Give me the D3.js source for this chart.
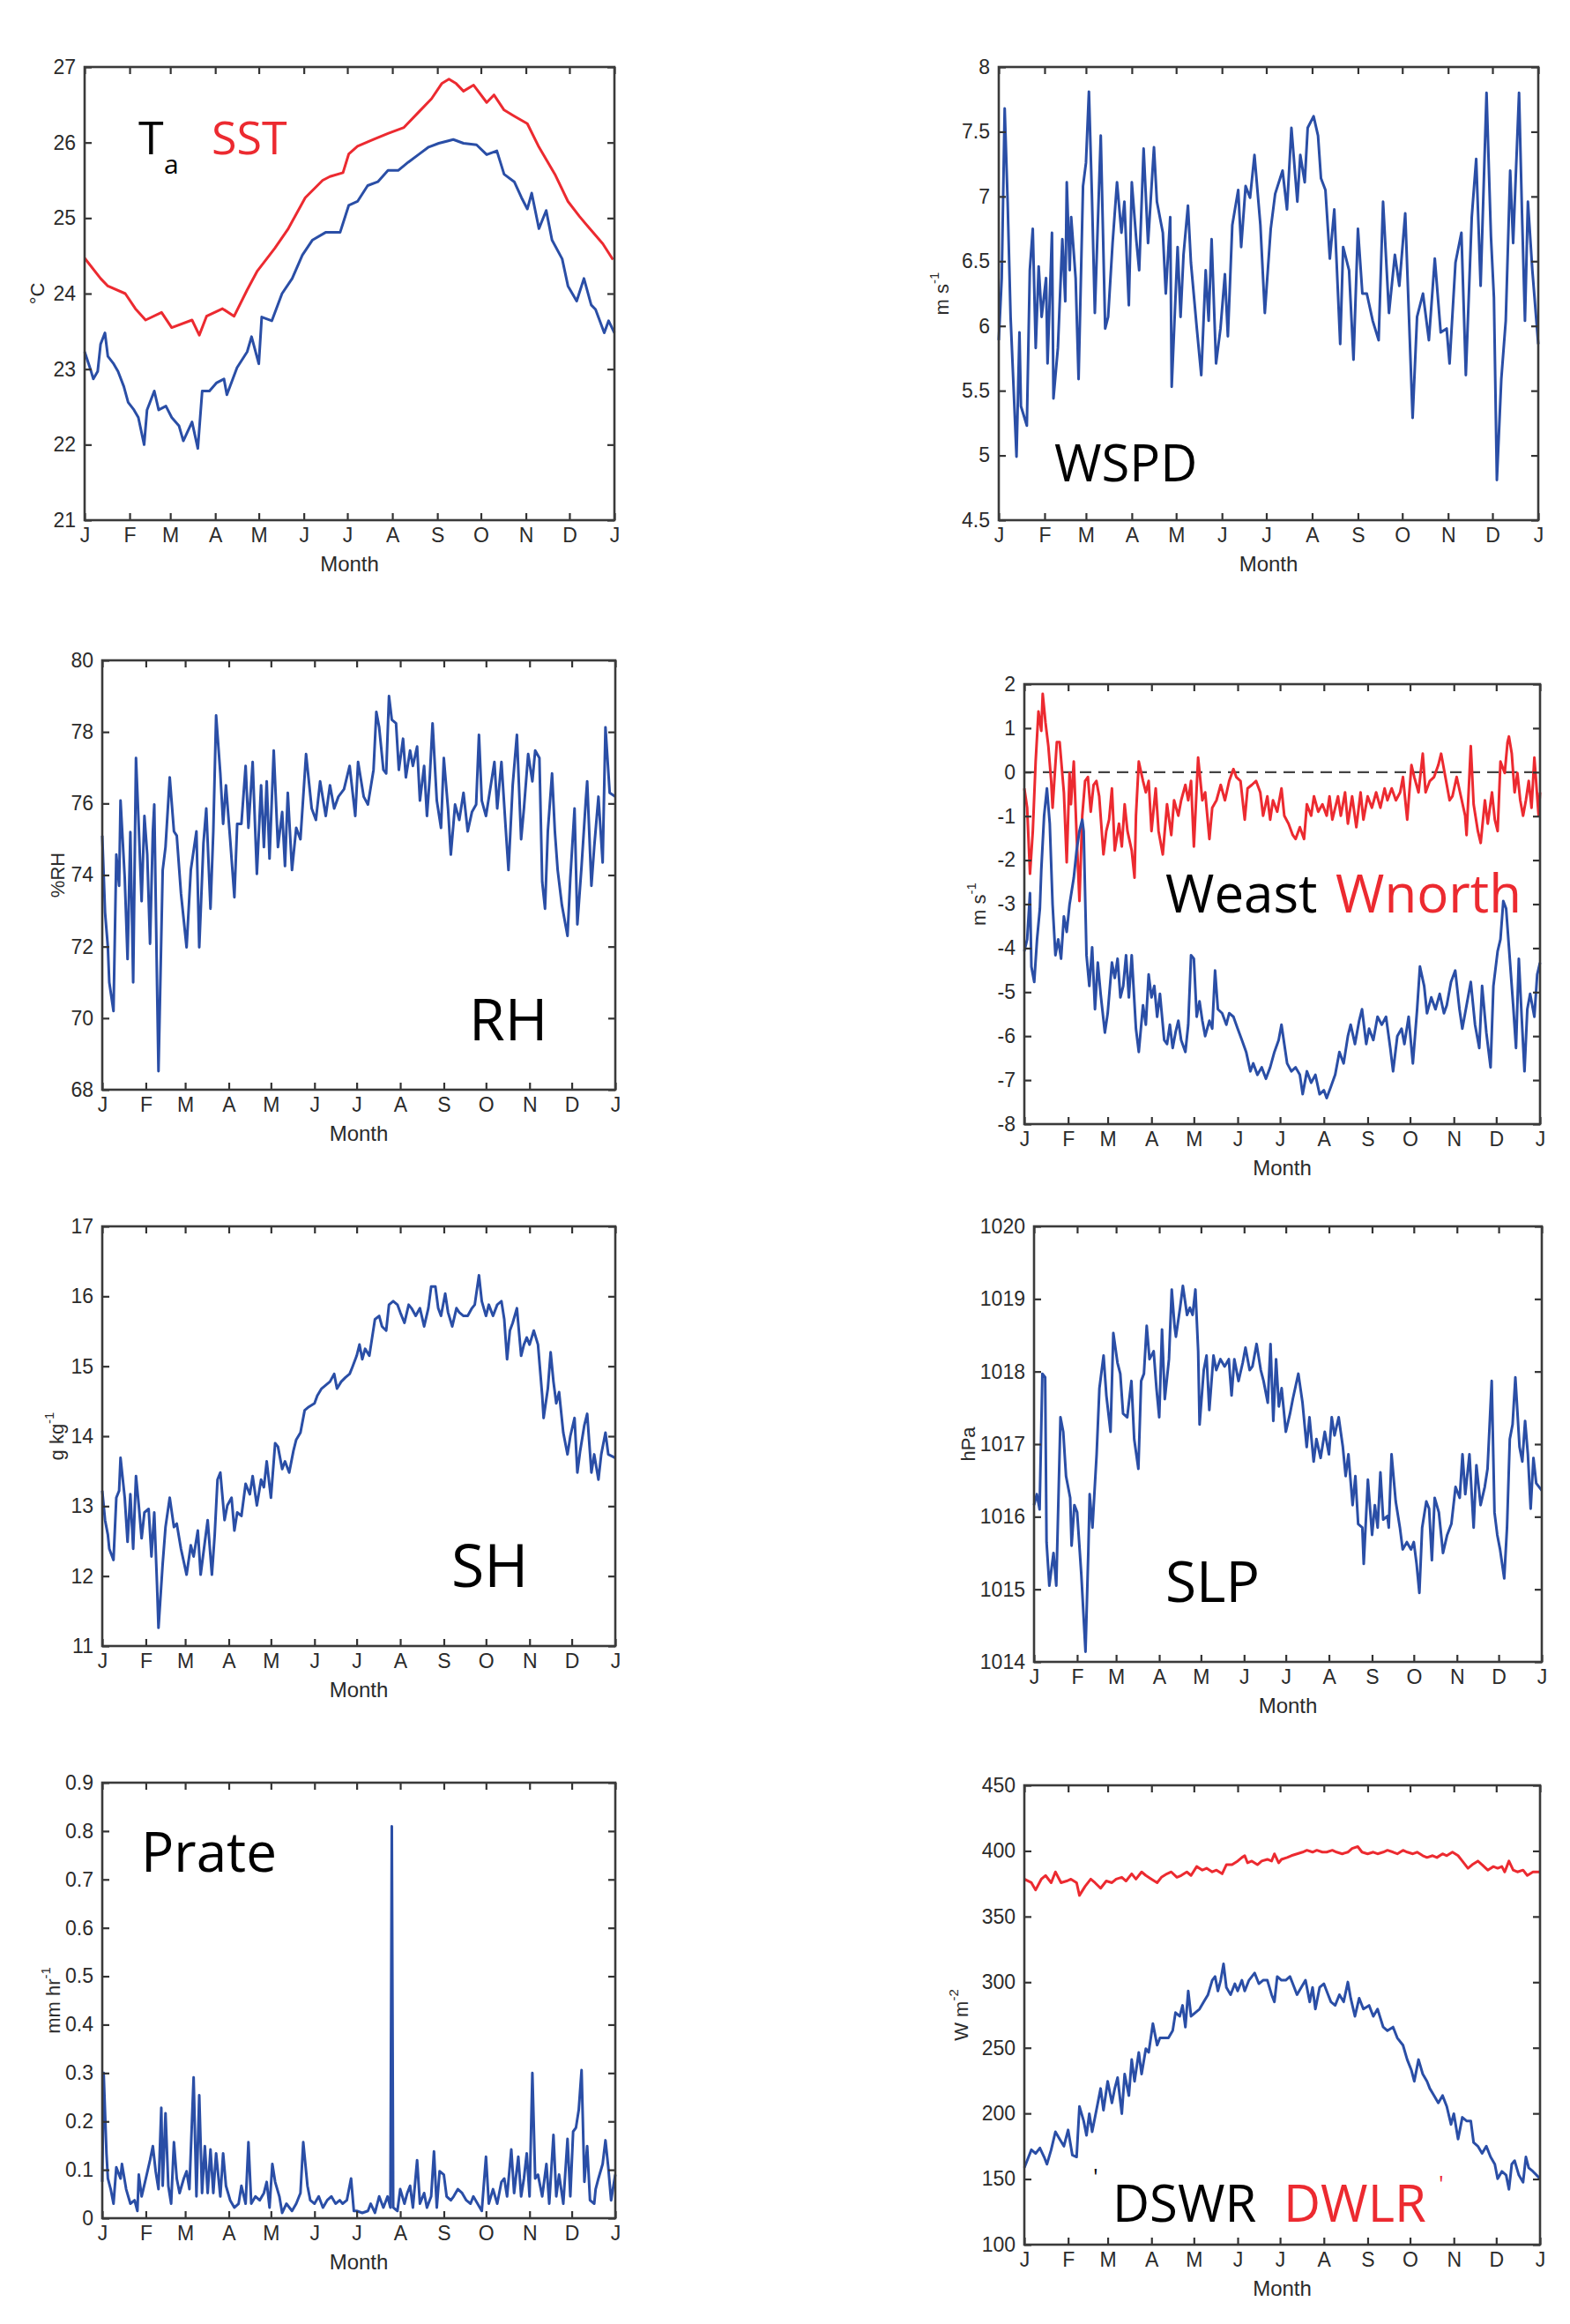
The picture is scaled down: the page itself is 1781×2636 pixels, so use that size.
<!DOCTYPE html>
<html>
<head>
<meta charset="utf-8">
<script src="https://cdn.jsdelivr.net/npm/d3@7"></script>
<style>
  body { margin: 0; background: #fff; }
  svg { display: block; }
</style>
</head>
<body>
<svg id="fig" width="1781" height="2636"></svg>
<script>
// month tick labels along every x axis
var monthLabels = ["J","F","M","A","M","J","J","A","S","O","N","D","J"];

// [day of year, value]
var ta = [[0,23.23],[4,23.0],[6,22.87],[9,22.97],[11,23.33],[14,23.48],[16,23.17],[20,23.07],[23,22.97],[27,22.77],[30,22.56],[34,22.46],[37,22.36],[41,22.0],[43,22.46],[48,22.71],[51,22.46],[56,22.51],[60,22.36],[65,22.25],[68,22.05],[74,22.3],[78,21.95],[81,22.71],[86,22.71],[91,22.82],[96,22.87],[98,22.66],[105,23.02],[112,23.23],[115,23.43],[120,23.07],[122,23.69],[129,23.64],[136,24.0],[143,24.2],[150,24.51],[157,24.71],[166,24.81],[176,24.81],[182,25.17],[188,25.22],[195,25.43],[202,25.48],[209,25.63],[216,25.63],[223,25.74],[230,25.84],[237,25.94],[244,25.99],[254,26.04],[261,25.99],[270,25.97],[277,25.84],[284,25.89],[289,25.58],[296,25.48],[301,25.27],[305,25.12],[308,25.33],[313,24.86],[318,25.1],[322,24.71],[329,24.46],[333,24.1],[339,23.9],[344,24.2],[349,23.85],[352,23.79],[358,23.48],[361,23.64],[365,23.48]];
var sst = [[0,24.47],[11,24.2],[16,24.1],[28,24.0],[35,23.8],[42,23.65],[53,23.75],[60,23.55],[74,23.65],[79,23.45],[84,23.7],[95,23.8],[103,23.7],[112,24.05],[119,24.3],[131,24.6],[140,24.85],[152,25.27],[164,25.5],[169,25.55],[178,25.6],[182,25.85],[188,25.95],[199,26.04],[209,26.12],[220,26.2],[230,26.4],[239,26.58],[246,26.78],[251,26.84],[256,26.78],[261,26.68],[268,26.76],[277,26.53],[282,26.63],[289,26.43],[296,26.35],[305,26.25],[313,25.94],[324,25.58],[333,25.22],[341,25.02],[348,24.86],[357,24.66],[364,24.45]];

var wspd = [[0,5.89],[2,6.37],[4,7.68],[6,6.96],[8,6.07],[10,5.53],[12,4.99],[14,5.95],[15,5.38],[19,5.23],[21,6.43],[23,6.75],[25,5.83],[27,6.46],[29,6.07],[32,6.37],[33,5.71],[36,6.72],[37,5.44],[40,5.83],[43,6.67],[45,6.19],[46,7.11],[48,6.43],[49,6.84],[52,6.37],[54,5.59],[57,7.08],[59,7.26],[61,7.81],[63,7.02],[65,6.1],[69,7.47],[72,5.98],[74,6.07],[77,6.64],[80,7.11],[83,6.72],[85,6.96],[88,6.16],[90,7.11],[93,6.67],[95,6.43],[98,7.37],[101,6.64],[105,7.38],[107,6.96],[111,6.72],[113,6.25],[116,6.84],[117,5.53],[121,6.61],[123,6.07],[125,6.55],[128,6.93],[130,6.49],[134,5.98],[137,5.62],[140,6.43],[142,6.04],[144,6.67],[147,5.71],[150,5.98],[153,6.4],[155,5.92],[158,6.78],[162,7.05],[164,6.61],[167,7.08],[170,6.99],[173,7.32],[177,6.78],[180,6.1],[184,6.75],[187,7.02],[192,7.2],[195,6.9],[198,7.53],[202,6.96],[204,7.32],[207,7.11],[209,7.53],[213,7.62],[216,7.47],[218,7.14],[221,7.05],[224,6.52],[227,6.9],[231,5.86],[233,6.61],[237,6.43],[240,5.74],[243,6.75],[246,6.25],[249,6.25],[253,6.04],[257,5.89],[260,6.96],[264,6.1],[268,6.55],[271,6.31],[275,6.87],[280,5.29],[283,6.07],[287,6.25],[291,5.89],[295,6.52],[299,5.95],[303,5.98],[305,5.71],[309,6.49],[313,6.72],[316,5.62],[320,6.84],[323,7.29],[326,6.31],[330,7.8],[333,6.69],[335,6.22],[337,4.81],[340,5.59],[343,6.04],[346,7.2],[348,6.64],[352,7.8],[354,6.87],[356,6.04],[358,6.96],[361,6.43],[365,5.86]];

var rh = [[0,75.1],[2,72.95],[4,71.98],[5,71.0],[8,70.2],[10,74.57],[12,73.7],[13,76.08],[16,73.92],[18,71.65],[20,75.2],[22,71.0],[24,77.27],[26,75.32],[28,73.27],[30,75.65],[32,74.57],[34,72.08],[36,75.22],[37,75.97],[39,70.9],[40,68.52],[43,74.14],[45,74.78],[48,76.73],[51,75.22],[53,75.1],[56,73.49],[60,71.98],[63,74.14],[67,75.22],[69,71.98],[72,74.89],[74,75.86],[77,73.06],[79,75.22],[81,78.46],[84,76.84],[86,75.43],[88,76.51],[91,75.0],[94,73.38],[96,75.43],[99,75.43],[102,77.05],[104,75.32],[107,77.16],[110,74.03],[113,76.51],[115,74.78],[117,76.62],[119,74.46],[122,77.48],[125,74.78],[128,75.76],[130,74.25],[132,76.3],[135,74.14],[138,75.32],[141,75.0],[145,77.38],[149,75.86],[152,75.54],[155,76.62],[159,75.65],[162,76.51],[165,75.86],[168,76.19],[172,76.4],[176,77.05],[180,75.65],[182,77.16],[186,76.19],[189,75.97],[193,76.94],[195,78.56],[197,78.13],[200,76.94],[202,76.84],[204,79.0],[206,78.34],[209,78.24],[211,76.94],[214,77.81],[216,76.73],[219,77.48],[221,77.05],[224,77.59],[226,76.08],[229,77.05],[231,75.65],[233,76.73],[235,78.24],[238,76.08],[241,75.32],[243,77.27],[246,75.86],[248,74.57],[251,75.97],[254,75.54],[257,76.3],[260,75.22],[263,75.76],[266,75.97],[268,77.92],[270,76.08],[273,75.65],[276,76.4],[279,77.16],[281,75.86],[284,77.16],[287,75.32],[289,74.14],[292,76.51],[295,77.92],[298,75.0],[300,75.86],[303,77.38],[306,76.62],[308,77.48],[311,77.27],[313,73.81],[315,73.06],[317,75.22],[320,76.84],[322,75.22],[324,74.14],[327,73.16],[331,72.3],[333,73.92],[336,75.86],[338,72.62],[341,74.25],[344,76.08],[345,76.62],[348,73.7],[350,74.78],[353,76.19],[356,74.35],[358,78.13],[361,76.3],[365,76.19]];

var wnorth = [[0,-0.37],[2,-0.81],[4,-2.31],[6,-1.34],[8,0.24],[10,1.38],[12,0.94],[13,1.78],[15,1.12],[17,0.59],[19,-0.2],[20,-0.81],[23,0.68],[25,0.68],[28,-0.46],[30,-2.05],[32,-0.02],[33,-0.73],[35,0.24],[37,-1.43],[39,-2.93],[41,-0.99],[43,-0.2],[45,-0.11],[47,-0.9],[49,-0.29],[51,-0.2],[53,-0.55],[56,-1.87],[58,-1.34],[60,-1.08],[62,-0.37],[64,-1.78],[67,-1.17],[69,-1.69],[71,-0.73],[73,-1.34],[76,-1.78],[78,-2.4],[79,-0.99],[81,0.24],[84,-0.2],[86,-0.46],[88,-0.2],[90,-1.34],[93,-0.37],[95,-1.34],[98,-1.87],[101,-0.73],[104,-1.43],[106,-0.64],[109,-0.99],[111,-0.64],[114,-0.29],[116,-0.64],[118,-0.2],[120,-1.69],[123,0.33],[126,-0.64],[128,-0.46],[131,-1.52],[133,-0.81],[136,-0.64],[139,-0.29],[142,-0.64],[145,-0.2],[148,0.07],[150,-0.11],[153,-0.2],[156,-1.08],[158,-0.37],[161,-0.29],[164,-0.2],[167,-0.46],[169,-0.99],[172,-0.55],[174,-1.08],[176,-0.64],[179,-0.9],[182,-0.37],[184,-0.99],[187,-1.17],[190,-1.43],[192,-1.52],[195,-1.25],[198,-1.52],[200,-0.73],[203,-0.99],[205,-0.55],[208,-0.9],[211,-0.73],[214,-0.99],[216,-0.55],[218,-1.08],[222,-0.55],[224,-0.99],[227,-0.46],[229,-1.17],[232,-0.55],[235,-1.25],[238,-0.46],[240,-1.08],[243,-0.55],[246,-0.81],[249,-0.46],[252,-0.81],[255,-0.37],[257,-0.64],[260,-0.37],[263,-0.64],[266,-0.46],[268,-0.11],[271,-1.08],[274,0.16],[276,-0.11],[279,-0.46],[282,0.42],[284,-0.46],[287,-0.2],[290,-0.11],[293,0.16],[295,0.42],[298,-0.11],[301,-0.64],[303,-0.55],[306,-0.11],[309,-0.55],[312,-0.99],[313,-1.43],[316,0.59],[318,-0.73],[321,-1.34],[323,-1.61],[326,-0.64],[328,-1.17],[331,-0.46],[333,-1.08],[335,-1.34],[337,0.24],[340,-0.02],[342,0.68],[343,0.81],[345,0.42],[347,-0.46],[349,-0.02],[351,-0.64],[353,-0.99],[355,-0.64],[357,-0.2],[359,-0.81],[361,0.33],[364,-0.99],[365,-0.46]];

var weast = [[0,-4.07],[2,-3.8],[4,-2.75],[5,-4.42],[7,-4.77],[9,-3.8],[11,-3.1],[12,-2.22],[14,-0.99],[16,-0.37],[18,-1.17],[20,-3.01],[22,-4.16],[24,-3.8],[26,-4.24],[28,-3.28],[30,-3.63],[32,-3.01],[35,-2.4],[37,-1.78],[39,-1.34],[41,-1.08],[42,-1.34],[44,-4.16],[46,-4.86],[48,-3.98],[50,-5.39],[52,-4.33],[54,-5.04],[57,-5.92],[59,-5.48],[62,-4.33],[64,-4.68],[66,-4.24],[68,-5.12],[70,-4.86],[72,-4.16],[74,-5.12],[76,-4.16],[79,-5.83],[81,-6.36],[84,-5.3],[86,-5.74],[88,-4.6],[90,-5.12],[92,-4.86],[94,-5.56],[96,-5.04],[99,-6.09],[101,-6.18],[103,-5.74],[105,-6.27],[107,-5.92],[109,-5.65],[111,-6.09],[114,-6.36],[116,-5.74],[118,-4.16],[120,-4.24],[122,-5.56],[124,-5.21],[126,-5.65],[128,-6.0],[131,-5.65],[133,-5.83],[135,-4.51],[137,-5.39],[140,-5.48],[143,-5.74],[145,-5.48],[148,-5.56],[151,-5.83],[154,-6.09],[157,-6.36],[160,-6.8],[162,-6.62],[165,-6.88],[168,-6.71],[171,-6.97],[174,-6.71],[177,-6.36],[180,-6.09],[182,-5.74],[184,-6.18],[186,-6.62],[189,-6.8],[192,-6.71],[195,-6.88],[197,-7.32],[200,-6.8],[203,-7.06],[206,-6.88],[209,-7.32],[212,-7.23],[214,-7.41],[217,-7.15],[220,-6.88],[223,-6.36],[226,-6.62],[229,-6.0],[231,-5.74],[234,-6.18],[237,-5.65],[239,-5.39],[242,-6.18],[244,-5.83],[247,-6.09],[250,-5.56],[253,-5.74],[256,-5.56],[259,-6.27],[261,-6.8],[264,-6.0],[267,-5.83],[269,-6.18],[272,-5.56],[275,-6.62],[278,-5.39],[280,-4.42],[283,-4.86],[285,-5.48],[288,-5.12],[291,-5.39],[294,-5.04],[297,-5.48],[299,-5.3],[302,-4.77],[305,-4.51],[308,-5.39],[310,-5.83],[313,-5.3],[316,-4.77],[319,-5.74],[322,-6.27],[324,-4.86],[327,-5.92],[330,-6.71],[332,-4.86],[335,-4.07],[337,-3.8],[339,-2.93],[341,-3.1],[343,-3.98],[346,-5.3],[348,-6.27],[350,-4.24],[352,-5.56],[354,-6.8],[356,-5.39],[358,-5.04],[361,-5.56],[363,-4.6],[365,-4.33]];

var sh = [[0,13.22],[2,12.8],[4,12.59],[5,12.39],[8,12.23],[10,13.12],[12,13.22],[13,13.69],[16,13.12],[18,12.49],[20,13.17],[22,12.39],[24,13.43],[26,13.01],[28,12.54],[30,12.91],[33,12.96],[35,12.28],[37,12.91],[39,11.86],[40,11.26],[43,12.18],[45,12.7],[48,13.12],[51,12.7],[53,12.75],[56,12.39],[60,12.02],[63,12.44],[65,12.28],[68,12.65],[70,12.02],[73,12.49],[75,12.8],[78,12.02],[80,12.59],[82,13.38],[84,13.48],[87,12.8],[89,13.01],[92,13.12],[94,12.65],[96,12.91],[99,12.86],[102,13.32],[105,13.17],[107,13.43],[110,13.01],[113,13.38],[115,13.27],[117,13.64],[120,13.12],[123,13.9],[125,13.85],[128,13.53],[130,13.64],[133,13.48],[136,13.79],[138,13.95],[141,14.05],[144,14.37],[147,14.42],[151,14.47],[153,14.58],[156,14.68],[159,14.73],[162,14.78],[165,14.89],[167,14.68],[170,14.78],[173,14.84],[176,14.89],[178,14.99],[181,15.15],[183,15.31],[185,15.1],[187,15.25],[190,15.15],[192,15.41],[194,15.67],[197,15.72],[199,15.57],[202,15.51],[204,15.88],[207,15.93],[210,15.88],[212,15.77],[215,15.62],[218,15.88],[220,15.83],[223,15.72],[226,15.83],[229,15.57],[232,15.83],[234,16.14],[237,16.14],[239,15.83],[241,15.72],[244,16.04],[246,15.77],[249,15.57],[252,15.83],[254,15.77],[257,15.72],[260,15.72],[263,15.83],[265,15.88],[268,16.3],[270,15.93],[273,15.72],[275,15.88],[278,15.72],[281,15.88],[284,15.93],[286,15.67],[288,15.1],[290,15.51],[292,15.62],[295,15.83],[298,15.15],[300,15.31],[302,15.41],[304,15.31],[307,15.51],[310,15.31],[313,14.58],[314,14.26],[317,14.68],[319,15.2],[321,14.78],[323,14.47],[325,14.63],[328,14.05],[331,13.74],[333,14.0],[336,14.26],[338,13.48],[340,13.79],[343,14.16],[345,14.32],[348,13.48],[350,13.74],[353,13.38],[355,13.74],[358,14.05],[360,13.74],[365,13.69]];

var slp = [[0,1016.16],[2,1016.31],[4,1016.1],[6,1017.97],[8,1017.92],[9,1015.65],[11,1015.05],[14,1015.5],[16,1015.05],[19,1017.37],[21,1017.17],[23,1016.56],[26,1016.26],[27,1015.6],[29,1016.16],[31,1016.06],[34,1015.2],[37,1014.14],[39,1015.5],[40,1016.31],[42,1015.85],[45,1016.86],[47,1017.77],[50,1018.22],[52,1017.67],[55,1017.17],[57,1018.53],[60,1018.12],[62,1017.97],[64,1017.42],[67,1017.37],[70,1017.87],[72,1017.07],[75,1016.66],[77,1017.87],[79,1017.97],[81,1018.63],[83,1018.17],[86,1018.28],[88,1017.77],[90,1017.37],[92,1018.58],[94,1017.62],[97,1018.17],[99,1019.13],[101,1018.63],[102,1018.48],[105,1018.88],[107,1019.18],[110,1018.78],[112,1018.88],[114,1018.78],[116,1019.13],[118,1018.28],[119,1017.27],[122,1018.02],[124,1018.22],[126,1017.47],[129,1018.22],[131,1018.02],[134,1018.17],[137,1018.07],[140,1018.17],[142,1017.67],[144,1018.17],[147,1017.87],[150,1018.12],[152,1018.33],[155,1018.02],[157,1018.07],[160,1018.38],[163,1018.02],[165,1017.87],[168,1017.57],[170,1018.38],[172,1017.32],[174,1018.17],[176,1017.52],[178,1017.77],[181,1017.17],[184,1017.42],[186,1017.62],[190,1017.97],[193,1017.57],[196,1016.96],[198,1017.37],[201,1016.76],[203,1017.07],[206,1016.81],[209,1017.17],[212,1016.86],[214,1017.37],[216,1017.12],[219,1017.37],[222,1016.96],[224,1016.56],[226,1016.86],[229,1016.16],[231,1016.56],[233,1015.9],[236,1015.85],[237,1015.35],[240,1016.51],[243,1015.75],[245,1016.16],[247,1015.85],[249,1016.61],[251,1015.96],[254,1016.01],[255,1015.85],[257,1016.86],[260,1016.21],[263,1015.85],[265,1015.55],[268,1015.65],[271,1015.55],[273,1015.65],[275,1015.35],[277,1014.95],[279,1015.85],[282,1016.21],[284,1016.11],[286,1015.4],[288,1016.26],[291,1016.06],[294,1015.5],[297,1015.75],[300,1015.9],[303,1016.41],[306,1016.26],[308,1016.86],[310,1016.31],[313,1016.86],[316,1015.85],[318,1016.71],[321,1016.16],[324,1016.41],[326,1016.66],[329,1017.87],[331,1016.06],[333,1015.75],[335,1015.55],[338,1015.15],[340,1015.85],[342,1017.07],[344,1017.27],[346,1017.92],[349,1016.96],[351,1016.76],[353,1017.32],[355,1016.86],[357,1016.11],[359,1016.81],[361,1016.46],[365,1016.36]];

var prate = [[0,0.075],[1,0.3],[3,0.134],[4,0.082],[6,0.06],[8,0.03],[10,0.105],[13,0.082],[14,0.112],[17,0.06],[20,0.03],[23,0.037],[25,0.015],[26,0.09],[28,0.045],[31,0.082],[34,0.12],[36,0.149],[38,0.097],[40,0.06],[42,0.228],[43,0.067],[45,0.217],[47,0.067],[49,0.03],[51,0.157],[53,0.082],[55,0.052],[58,0.082],[60,0.097],[62,0.06],[65,0.291],[67,0.045],[69,0.254],[71,0.052],[73,0.149],[75,0.052],[77,0.142],[79,0.052],[81,0.134],[84,0.045],[86,0.134],[88,0.067],[91,0.037],[94,0.022],[97,0.03],[99,0.067],[102,0.03],[104,0.157],[106,0.03],[109,0.045],[112,0.037],[115,0.052],[117,0.075],[119,0.022],[121,0.112],[123,0.075],[126,0.045],[128,0.011],[131,0.03],[135,0.015],[138,0.03],[141,0.052],[143,0.157],[146,0.067],[148,0.037],[151,0.03],[154,0.045],[157,0.022],[160,0.037],[163,0.045],[166,0.03],[169,0.037],[171,0.03],[174,0.037],[177,0.082],[179,0.015],[181,0.015],[185,0.011],[189,0.015],[191,0.03],[194,0.011],[197,0.045],[200,0.022],[203,0.045],[205,0.022],[206,0.81],[207,0.022],[210,0.015],[212,0.06],[215,0.03],[217,0.052],[219,0.067],[221,0.022],[224,0.12],[226,0.03],[229,0.052],[231,0.022],[234,0.045],[236,0.138],[238,0.022],[240,0.097],[243,0.09],[245,0.045],[248,0.037],[250,0.045],[253,0.06],[256,0.052],[259,0.037],[262,0.03],[264,0.045],[267,0.03],[270,0.015],[273,0.127],[275,0.03],[278,0.06],[281,0.03],[284,0.075],[286,0.082],[288,0.045],[291,0.142],[293,0.052],[296,0.127],[298,0.045],[300,0.082],[302,0.134],[304,0.045],[306,0.3],[308,0.082],[310,0.09],[313,0.045],[316,0.112],[318,0.03],[321,0.172],[323,0.045],[325,0.09],[328,0.03],[331,0.164],[333,0.045],[335,0.179],[337,0.187],[339,0.224],[341,0.306],[343,0.075],[345,0.149],[347,0.037],[350,0.03],[351,0.06],[353,0.082],[356,0.112],[358,0.161],[360,0.105],[362,0.037],[365,0.09]];

var dwlr = [[0,378.5],[5,375.8],[8,370.3],[12,378.5],[15,381.3],[19,375.8],[22,384],[26,375.8],[30,377.1],[33,378.5],[37,375.8],[39,366.1],[43,373],[47,378.5],[50,375.8],[54,371.6],[58,377.1],[62,375.8],[65,378.5],[69,379.9],[72,377.1],[76,382.6],[79,378.5],[83,384],[86,381.3],[90,378.5],[94,375.8],[97,379.9],[101,382.6],[104,384],[108,379.9],[111,381.3],[115,384],[118,381.3],[122,388.1],[126,385.4],[129,386.8],[133,384],[136,385.4],[140,382.6],[143,389.5],[147,389.5],[151,392.3],[154,395],[156,396.4],[158,390.9],[161,392.3],[165,389.5],[168,392.3],[172,393.6],[175,392.3],[177,397.8],[180,390.9],[182,393.6],[186,395],[189,396.4],[193,397.8],[197,399.1],[200,400.5],[204,399.1],[207,400.5],[211,399.1],[214,399.1],[218,400.5],[221,399.1],[225,397.8],[229,399.1],[232,401.9],[236,403.3],[239,399.1],[243,397.8],[247,399.1],[250,397.8],[254,399.1],[257,400.5],[261,399.1],[264,397.8],[268,400.5],[271,399.1],[275,397.8],[278,399.1],[282,396.4],[285,395],[289,396.4],[292,395],[296,397.8],[299,396.4],[303,399.1],[307,396.4],[310,392.3],[314,386.8],[317,389.5],[321,392.3],[324,389.5],[328,385.4],[332,388.1],[335,386.8],[338,388.1],[340,384],[343,392.3],[346,385.4],[349,384],[353,385.4],[356,381.3],[360,384],[365,384]];

var dswr = [[0,158.6],[3,166.8],[5,172.3],[8,169.5],[11,173.7],[14,166.8],[16,161.3],[19,172.3],[22,186],[25,180.5],[28,175],[31,187.4],[34,168.2],[37,166.8],[39,205.3],[42,194.3],[44,183.3],[46,199.8],[48,186],[51,202.5],[54,219],[56,202.5],[59,224.5],[62,208],[64,219],[66,227.3],[69,199.8],[71,230],[74,213.6],[76,241],[78,224.5],[81,246.5],[83,230],[86,249.3],[88,246.5],[91,268.5],[94,252],[96,257.5],[100,257.5],[102,257.5],[105,263],[107,276.8],[110,274],[112,282.3],[114,265.8],[116,293.3],[118,274],[121,276.8],[124,279.5],[127,285],[130,290.5],[133,301.5],[135,304.3],[137,293.3],[139,301.5],[141,313.9],[143,296],[146,290.5],[149,298.8],[151,293.3],[154,301.5],[156,293.3],[159,301.5],[163,307],[166,298.8],[169,301.5],[172,301.5],[175,290.5],[177,285],[179,304.3],[182,301.5],[185,301.5],[188,304.3],[190,298.8],[193,290.5],[196,296],[199,301.5],[202,285],[204,296],[206,279.5],[209,296],[212,298.8],[215,290.5],[217,285],[220,282.3],[223,290.5],[226,285],[229,300.1],[231,287.8],[234,274],[237,287.8],[240,279.5],[244,282.3],[247,274],[250,279.5],[254,265.8],[257,263],[261,265.8],[264,257.5],[268,252],[271,241],[274,232.8],[276,224.5],[279,241],[282,230],[285,224.5],[287,219],[290,213.6],[293,208],[296,213.6],[299,205.3],[302,191.6],[304,199.8],[307,180.5],[310,197],[313,194.3],[316,194.3],[318,177.8],[321,175],[324,169.5],[327,175],[330,166.8],[333,161.3],[335,150.3],[338,155.8],[341,153],[343,142.1],[345,161.3],[347,164],[350,153],[353,147.5],[355,166.8],[357,158.6],[360,155.8],[365,150.3]];

var BLUE = "#2a4ea6", RED = "#ec2a30";
var svg = d3.select("#fig");
var year0 = new Date(2001, 0, 1), year1 = new Date(2002, 0, 1);
var monthStarts = d3.timeMonth.range(year0, new Date(2002, 0, 2));
function dayDate(d) { return d3.timeDay.offset(year0, d[0]); }

// one entry per panel: plot box [left, top, right, bottom], y range and step
var panels = [
  {box:[96,76,697,590],    y:[21,27],     step:1,   unit:["°C",""],   ux:44,   series:[[sst,RED],[ta,BLUE]]},
  {box:[1133,76,1745,590], y:[4.5,8],     step:0.5, unit:["m s","-1"], ux:1070, series:[[wspd,BLUE]]},
  {box:[116,749,698,1236], y:[68,80],     step:2,   unit:["%RH",""],  ux:67,   series:[[rh,BLUE]]},
  {box:[1162,776,1747,1275], y:[-8,2],    step:1,   unit:["m s","-1"], ux:1112, series:[[wnorth,RED],[weast,BLUE]], zero:true},
  {box:[116,1391,698,1867], y:[11,17],    step:1,   unit:["g kg","-1"], ux:66,  series:[[sh,BLUE]]},
  {box:[1173,1391,1749,1885], y:[1014,1020], step:1, unit:["hPa",""], ux:1100, series:[[slp,BLUE]]},
  {box:[116,2022,698,2516], y:[0,0.9],    step:0.1, unit:["mm hr","-1"], ux:62, series:[[prate,BLUE]]},
  {box:[1162,2025,1747,2546], y:[100,450], step:50, unit:["W m","-2"], ux:1092, series:[[dwlr,RED],[dswr,BLUE]]}
];

panels.forEach(function(p) {
  var L = p.box[0], T = p.box[1], R = p.box[2], B = p.box[3];
  var x = d3.scaleTime().domain([year0, year1]).range([L, R]);
  var y = d3.scaleLinear().domain(p.y).range([B, T]);
  var yTicks = d3.range(p.y[0], p.y[1] + p.step / 2, p.step).map(function(v) { return +v.toFixed(2); });
  var g = svg.append("g");

  if (p.zero) {
    g.append("line")
      .attr("x1", L).attr("x2", R).attr("y1", y(0)).attr("y2", y(0))
      .attr("stroke", "#444").attr("stroke-width", 2.2).attr("stroke-dasharray", "13,8");
  }

  var line = d3.line().x(function(d) { return x(dayDate(d)); }).y(function(d) { return y(d[1]); });
  p.series.forEach(function(s) {
    g.append("path").datum(s[0])
      .attr("d", line).attr("fill", "none")
      .attr("stroke", s[1]).attr("stroke-width", 3)
      .attr("stroke-linejoin", "round");
  });

  // MATLAB style box with inward ticks
  g.append("g").attr("transform", "translate(" + L + ",0)")
    .call(d3.axisLeft(y).tickValues(yTicks).tickSize(-8).tickPadding(10).tickFormat(function(v) { return String(v); }));
  g.append("g").attr("transform", "translate(" + R + ",0)")
    .call(d3.axisRight(y).tickValues(yTicks).tickSize(-8).tickFormat(""));
  g.append("g").attr("transform", "translate(0," + B + ")")
    .call(d3.axisBottom(x).tickValues(monthStarts).tickSize(-8).tickPadding(9).tickFormat(function(d, i) { return monthLabels[i]; }));
  g.append("g").attr("transform", "translate(0," + T + ")")
    .call(d3.axisTop(x).tickValues(monthStarts).tickSize(-8).tickFormat(""));
  g.selectAll(".domain").remove();
  g.selectAll(".tick line").attr("stroke", "#333").attr("stroke-width", 2.2);
  g.selectAll(".tick text").attr("fill", "#2b2b2b")
    .attr("font-family", "'Liberation Sans', Arial, sans-serif").attr("font-size", 23);

  g.append("rect").attr("x", L).attr("y", T).attr("width", R - L).attr("height", B - T)
    .attr("fill", "none").attr("stroke", "#3a3a3a").attr("stroke-width", 2.6);

  g.append("text")
    .attr("x", (L + R) / 2).attr("y", B + 58)
    .attr("text-anchor", "middle").attr("fill", "#2b2b2b")
    .attr("font-family", "'Liberation Sans', Arial, sans-serif").attr("font-size", 24)
    .text("Month");

  var cy = (T + B) / 2;
  var ut = g.append("text")
    .attr("transform", "translate(" + (p.ux + 6) + "," + cy + ") rotate(-90)")
    .attr("text-anchor", "middle").attr("fill", "#2b2b2b")
    .attr("font-family", "'Liberation Sans', Arial, sans-serif").attr("font-size", 22);
  ut.append("tspan").text(p.unit[0]);
  if (p.unit[1]) ut.append("tspan").attr("dy", -11).attr("font-size", 15).text(p.unit[1]);
});

// big in-panel labels
function big(x0, y0, size, color, txt) {
  return svg.append("text").attr("x", x0).attr("y", y0)
    .attr("font-family", "'Open Sans', 'Noto Sans', sans-serif").attr("font-size", size)
    .attr("fill", color).text(txt);
}
big(157, 175, 52, "#000", "T");
big(186, 197, 30, "#000", "a");
big(240, 175, 52, RED, "SST");
big(1196, 546, 58, "#000", "WSPD");
big(532, 1180, 66, "#000", "RH");
big(1322, 1035, 60, "#000", "Weast");
big(1515, 1035, 60, RED, "Wnorth");
big(512, 1800, 68, "#000", "SH");
big(1322, 1817, 64, "#000", "SLP");
big(160, 2123, 62, "#000", "Prate");
big(1262, 2520, 58, "#000", "DSWR");
big(1456, 2520, 58, RED, "DWLR");
big(1240, 2478, 26, "#000", "'");
big(1632, 2486, 26, RED, "'");
</script>
</body>
</html>
